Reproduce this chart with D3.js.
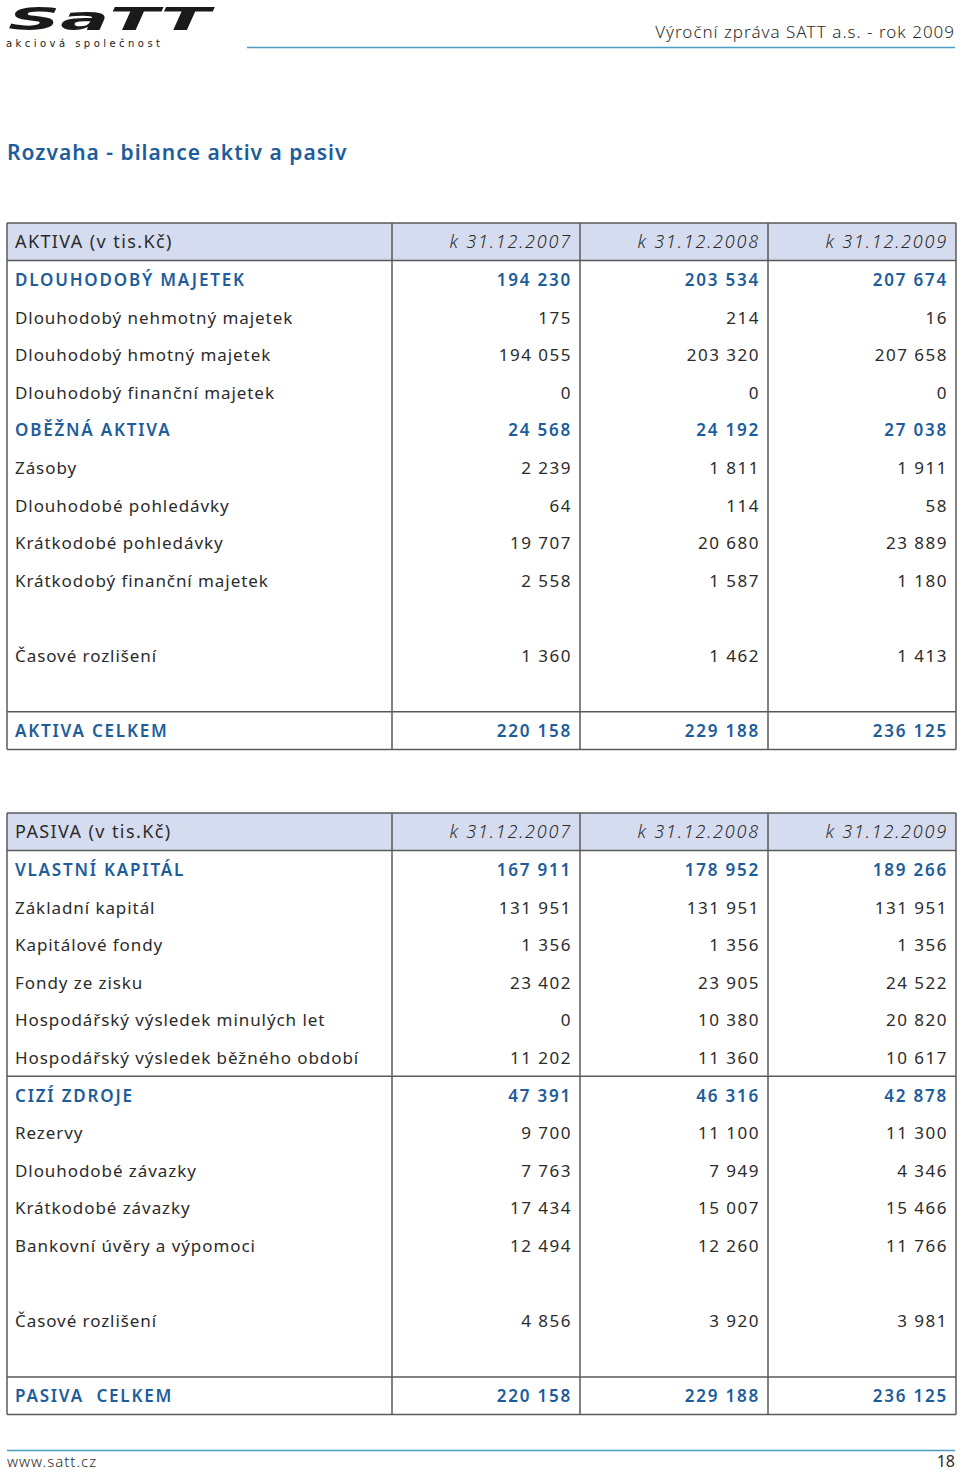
<!DOCTYPE html>
<html>
<head>
<meta charset="utf-8">
<script src="https://cdnjs.cloudflare.com/ajax/libs/d3/7.8.5/d3.min.js"></script>
<style>
    body { margin: 0; background: #fff; }
    svg { display: block; }
    .cell { font-family: "Noto Sans", sans-serif; font-size: 17px; letter-spacing: 0.93px; fill: #2b2b2b; white-space: pre; }
    .num { letter-spacing: 1.5px; }
    .grp { fill: #1d5d9b; font-weight: 600; letter-spacing: 1.8px; }
    .hdr { font-style: italic; font-weight: 300; font-size: 18px; letter-spacing: 1.8px; }
    .ttl { font-size: 18px; letter-spacing: 1.4px; }
</style>
</head>
<body>
<svg id="page" width="960" height="1472"></svg>
<script>
    // column headers
    let years = ["k 31.12.2007", "k 31.12.2008", "k 31.12.2009"];

    // AKTIVA – type: g = group row (blue bold), i = item, b = blank
    let aktivaTitle = "AKTIVA (v tis.Kč)";
    let aktivaLabels = ["DLOUHODOBÝ MAJETEK", "Dlouhodobý nehmotný majetek", "Dlouhodobý hmotný majetek",
        "Dlouhodobý finanční majetek", "OBĚŽNÁ AKTIVA", "Zásoby", "Dlouhodobé pohledávky",
        "Krátkodobé pohledávky", "Krátkodobý finanční majetek", "", "Časové rozlišení", "", "AKTIVA CELKEM"];
    let aktivaTypes = ["g", "i", "i", "i", "g", "i", "i", "i", "i", "b", "i", "b", "g"];
    let aktiva2007 = [194230, 175, 194055, 0, 24568, 2239, 64, 19707, 2558, null, 1360, null, 220158];
    let aktiva2008 = [203534, 214, 203320, 0, 24192, 1811, 114, 20680, 1587, null, 1462, null, 229188];
    let aktiva2009 = [207674, 16, 207658, 0, 27038, 1911, 58, 23889, 1180, null, 1413, null, 236125];
    let aktivaLines = [11]; // line drawn below these row indexes

    // PASIVA
    let pasivaTitle = "PASIVA (v tis.Kč)";
    let pasivaLabels = ["VLASTNÍ KAPITÁL", "Základní kapitál", "Kapitálové fondy", "Fondy ze zisku",
        "Hospodářský výsledek minulých let", "Hospodářský výsledek běžného období", "CIZÍ ZDROJE",
        "Rezervy", "Dlouhodobé závazky", "Krátkodobé závazky", "Bankovní úvěry a výpomoci", "",
        "Časové rozlišení", "", "PASIVA  CELKEM"];
    let pasivaTypes = ["g", "i", "i", "i", "i", "i", "g", "i", "i", "i", "i", "b", "i", "b", "g"];
    let pasiva2007 = [167911, 131951, 1356, 23402, 0, 11202, 47391, 9700, 7763, 17434, 12494, null, 4856, null, 220158];
    let pasiva2008 = [178952, 131951, 1356, 23905, 10380, 11360, 46316, 11100, 7949, 15007, 12260, null, 3920, null, 229188];
    let pasiva2009 = [189266, 131951, 1356, 24522, 20820, 10617, 42878, 11300, 4346, 15466, 11766, null, 3981, null, 236125];
    let pasivaLines = [5, 13];

    var svg = d3.select("#page");
    var blue = "#1d5d9b";
    var rule = "#4b9bc2";
    var grid = "#5a5a5a";

    var czFormat = d3.formatLocale({ decimal: ",", thousands: " ", grouping: [3], currency: ["", " Kč"] }).format(",d");

    // column scale: label column + three year columns
    var colX = d3.scaleOrdinal().domain([0, 1, 2, 3]).range([7, 392, 580, 768]);
    var tableRight = 956;
    var rowH = 37.6;
    var colRight = j => (j < 2 ? colX(j + 2) : tableRight) - 8;

    // ---- page header ----
    var logo = svg.append("g");
    logo.append("text")
        .attr("x", 8).attr("y", 30)
        .attr("textLength", 202).attr("lengthAdjust", "spacingAndGlyphs")
        .style("font-family", "DejaVu Sans").style("font-weight", "bold").style("font-style", "oblique")
        .style("font-size", "32px").style("fill", "#1a1a1a")
        .text("SaTT");
    logo.append("text")
        .attr("x", 6).attr("y", 47)
        .attr("textLength", 154)
        .style("font-family", "DejaVu Sans").style("font-size", "10px").style("fill", "#1a1a1a")
        .text("akciová společnost");

    svg.append("text")
        .attr("x", 955).attr("y", 38).attr("text-anchor", "end")
        .attr("class", "cell").style("font-size", "17px").style("font-weight", 300).style("letter-spacing", "1px")
        .text("Výroční zpráva SATT a.s. - rok 2009");
    svg.append("line").attr("x1", 247).attr("x2", 955).attr("y1", 47.5).attr("y2", 47.5)
        .style("stroke", rule).style("stroke-width", 1.3);

    svg.append("text")
        .attr("x", 7).attr("y", 160)
        .style("font-family", "Noto Sans").style("font-size", "21px").style("font-weight", 600)
        .style("letter-spacing", "1px").style("fill", blue)
        .text("Rozvaha - bilance aktiv a pasiv");

    // ---- tables ----
    function drawTable(top, title, labels, types, v1, v2, v3, lines) {
        var g = svg.append("g");
        var n = labels.length;
        var y = d3.scaleLinear().domain([0, 1]).range([top + rowH, top + 2 * rowH]);
        var bottom = y(n);

        g.append("rect").attr("x", colX(0)).attr("y", top)
            .attr("width", tableRight - colX(0)).attr("height", rowH)
            .style("fill", "#d6dcef");

        var rows = labels.map((l, i) => ({ label: l, type: types[i], vals: [v1[i], v2[i], v3[i]], i: i }));

        var row = g.selectAll("g.row").data(rows).enter().append("g").attr("class", "row")
            .attr("transform", d => "translate(0," + (y(d.i) + rowH / 2 + 6.5) + ")");
        row.append("text").attr("x", colX(0) + 8)
            .attr("class", d => "cell" + (d.type === "g" ? " grp" : ""))
            .text(d => d.label);
        row.selectAll("text.val").data(d => d.vals.map(v => ({ v: v, type: d.type })))
            .enter().append("text")
            .attr("class", d => "val cell num" + (d.type === "g" ? " grp" : ""))
            .attr("x", (d, j) => colRight(j))
            .attr("text-anchor", "end")
            .text(d => d.v === null ? "" : czFormat(d.v));

        // header row text
        var hy = top + rowH / 2 + 6.5;
        g.append("text").attr("x", colX(0) + 8).attr("y", hy).attr("class", "cell ttl").text(title);
        g.selectAll("text.yr").data(years).enter().append("text")
            .attr("class", "yr cell hdr")
            .attr("x", (d, j) => colRight(j))
            .attr("y", hy).attr("text-anchor", "end")
            .text(d => d);

        // grid
        var hl = [top, top + rowH, bottom].concat(lines.map(i => y(i + 1)));
        g.selectAll("line.h").data(hl).enter().append("line")
            .attr("x1", colX(0)).attr("x2", tableRight)
            .attr("y1", d => d).attr("y2", d => d)
            .style("stroke", grid).style("stroke-width", 1.5);
        var vl = [colX(0), colX(1), colX(2), colX(3), tableRight];
        g.selectAll("line.v").data(vl).enter().append("line")
            .attr("x1", d => d).attr("x2", d => d)
            .attr("y1", top).attr("y2", bottom)
            .style("stroke", grid).style("stroke-width", 1.5);
    }

    drawTable(223, aktivaTitle, aktivaLabels, aktivaTypes, aktiva2007, aktiva2008, aktiva2009, aktivaLines);
    drawTable(813, pasivaTitle, pasivaLabels, pasivaTypes, pasiva2007, pasiva2008, pasiva2009, pasivaLines);

    // ---- footer ----
    svg.append("line").attr("x1", 7).attr("x2", 955).attr("y1", 1450.5).attr("y2", 1450.5)
        .style("stroke", rule).style("stroke-width", 1.3);
    svg.append("text").attr("x", 7).attr("y", 1467).attr("class", "cell")
        .style("font-size", "15px").style("font-weight", 300).style("letter-spacing", "1px").text("www.satt.cz");
    svg.append("text").attr("x", 955).attr("y", 1467).attr("text-anchor", "end").attr("class", "cell")
        .style("font-size", "16px").style("letter-spacing", "0px").text("18");
</script>
</body>
</html>
